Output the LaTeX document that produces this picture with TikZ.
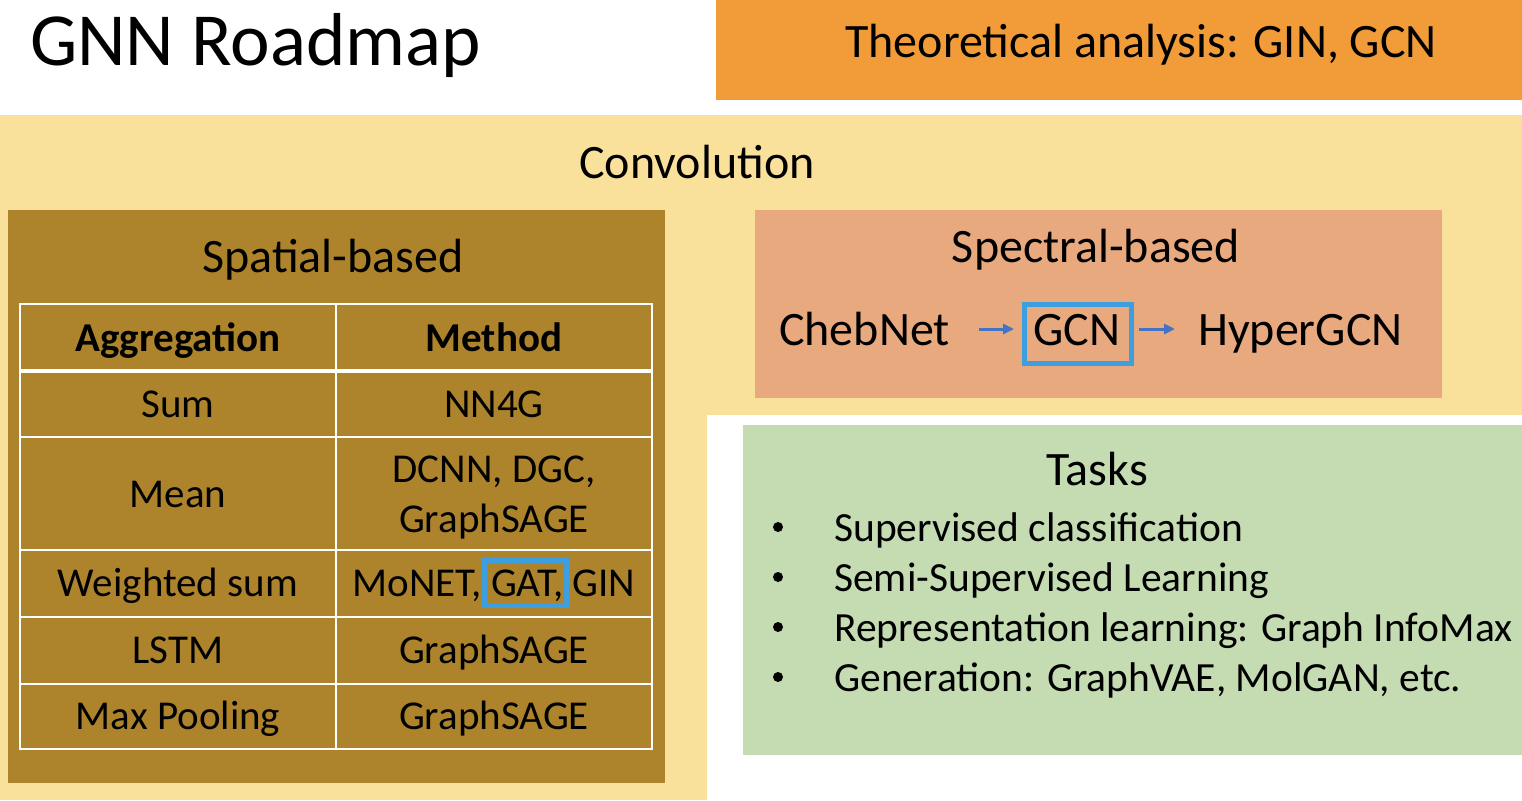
\documentclass[tikz,border=0pt]{standalone}
\usepackage{fontspec}
\setmainfont{Carlito}
\usetikzlibrary{arrows.meta}
\definecolor{orangeT}{HTML}{F19C38}
\definecolor{convY}{HTML}{F9E19B}
\definecolor{goldT}{HTML}{AD842B}
\definecolor{salmonT}{HTML}{E8A97F}
\definecolor{greenT}{HTML}{C5DCB3}
\definecolor{boxblue}{HTML}{3D9FE0}
\definecolor{arrblue}{HTML}{4472C4}
\tikzset{
  panel/.style={anchor=north west, inner sep=0pt, outer sep=0pt, draw=none},
  big/.style={font=\fontsize{48}{56}\selectfont, anchor=base, inner sep=0pt},
  cell/.style={font=\fontsize{41}{49}\selectfont, anchor=base, inner sep=0pt},
  hcell/.style={cell, font=\fontsize{41}{49}\selectfont\bfseries},
  task/.style={font=\fontsize{41.5}{49}\selectfont, anchor=base west, inner sep=0pt},
  bul/.style={circle, fill=black, inner sep=0pt, minimum size=10pt},
  grid/.style={white, line width=2pt},
  hl/.style={draw=boxblue, line width=5pt, inner sep=0pt, minimum width=#1},
  arr/.style={arrblue, line width=3pt, -{Triangle[length=11pt,width=10pt]}}
}
\begin{document}
\begin{tikzpicture}[x=1pt,y=-1pt]
\useasboundingbox (0,0) rectangle (1522,800);
\fill[white] (0,0) rectangle (1522,800);
% panels
\node[panel, fill=orangeT, minimum width=806pt, minimum height=100pt] (theo) at (716,0) {};
\node[panel, fill=convY, minimum width=1522pt, minimum height=685pt] (conv) at (0,115) {};
\node[panel, fill=white, minimum width=815pt, minimum height=385pt] (whitecut) at (707,415) {};
\node[panel, fill=goldT, minimum width=657pt, minimum height=573pt] (spatial) at (8,210) {};
\node[panel, fill=salmonT, minimum width=687pt, minimum height=188pt] (spectral) at (755,210) {};
\node[panel, fill=greenT, minimum width=779pt, minimum height=330pt] (tasks) at (743,425) {};
% titles
\node[font=\fontsize{75}{80}\selectfont, anchor=base west, inner sep=0pt] (title) at (30,65) {GNN Roadmap};
\node[big] (theotxt) at (1141,58) {Theoretical analysis: GIN, GCN};
\node[big] (convtxt) at (697,178) {Convolution};
\node[big] (spattxt) at (333,272) {Spatial-based};
\node[big] (spectxt) at (1096,262) {Spectral-based};
% table grid
\draw[grid] (20,304) rectangle (652,749);
\draw[grid] (336,304) -- (336,749);
\draw[white, line width=4pt] (20,371) -- (652,371);
\draw[grid] (20,437) -- (652,437);
\draw[grid] (20,550) -- (652,550);
\draw[grid] (20,617) -- (652,617);
\draw[grid] (20,684) -- (652,684);
% table text
\node[hcell] (h1) at (178,351) {Aggregation};
\node[hcell] (h2) at (494,351) {Method};
\node[cell] (a1) at (178,417) {Sum};
\node[cell] (m1) at (494,417) {NN4G};
\node[cell] (a2) at (178,507) {Mean};
\node[cell] (m2a) at (494,482) {DCNN, DGC,};
\node[cell] (m2b) at (494,532) {GraphSAGE};
\node[cell] (a3) at (178,596) {Weighted sum};
\node[cell] (m3) at (494,596) {MoNET, GAT, GIN};
\node[cell] (a4) at (178,663) {LSTM};
\node[cell] (m4) at (494,663) {GraphSAGE};
\node[cell] (a5) at (178,729) {Max Pooling};
\node[cell] (m5) at (494,729) {GraphSAGE};
\node[hl=82pt, minimum height=45pt] (gatbox) at (525,582.5) {};
% spectral chain
\node[big, anchor=base west] (cheb) at (779,345) {ChebNet};
\node[big] (gcn) at (1077,345) {GCN};
\node[hl=107pt, minimum height=59pt] (gcnbox) at (1078,334) {};
\node[big, anchor=base west] (hyper) at (1198,345) {HyperGCN};
\coordinate (a1s) at (979,329);
\coordinate (a2e) at (1175,329);
\draw[arr, shorten >=8pt] (a1s) -- (a1s -| gcnbox.west);
\draw[arr, shorten <=5pt] (a2e -| gcnbox.east) -- (a2e);
% tasks
\node[big] (taskstxt) at (1097,485) {Tasks};
\node[bul] (b1) at (778,527) {};
\node[task] (t1) at (834,541) {Supervised classification};
\node[bul] (b2) at (778,577) {};
\node[task] (t2) at (834,591) {Semi-Supervised Learning};
\node[bul] (b3) at (778,627) {};
\node[task] (t3) at (834,641) {Representation learning: Graph InfoMax};
\node[bul] (b4) at (778,677) {};
\node[task] (t4) at (834,691) {Generation: GraphVAE, MolGAN, etc.};
\end{tikzpicture}
\end{document}
